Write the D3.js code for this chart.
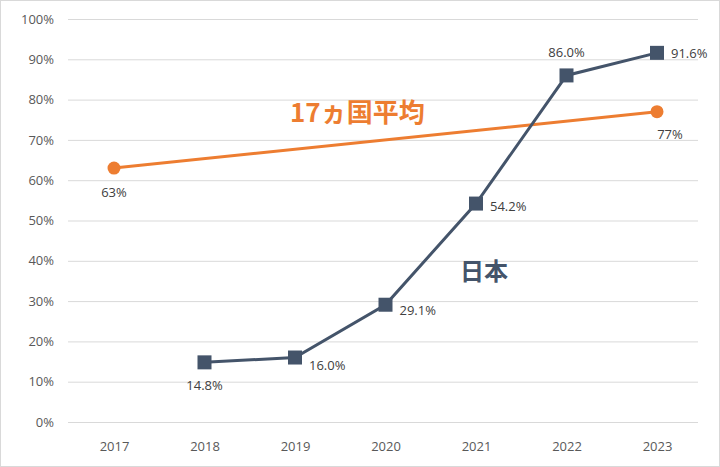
<!DOCTYPE html>
<html><head><meta charset="utf-8">
<script src="https://cdn.jsdelivr.net/npm/d3@7"></script>
<style>body{margin:0;background:#fff}</style>
</head><body><svg id="c" width="720" height="467"></svg>
<script>
const years=["2017","2018","2019","2020","2021","2022","2023"];
const japanYears=["2018","2019","2020","2021","2022","2023"];
const japanValues=[14.8,16.0,29.1,54.2,86.0,91.6];
const japanLabels=["14.8%","16.0%","29.1%","54.2%","86.0%","91.6%"];
const avgYears=["2017","2023"];
const avgValues=[63,77];
const avgLabels=["63%","77%"];
const yTicks=[0,10,20,30,40,50,60,70,80,90,100];

const svg=d3.select("#c");
svg.append("rect").attr("x",0.5).attr("y",0.5).attr("width",719).attr("height",466).attr("fill","#fff").attr("stroke","#d9d9d9");
const x=d3.scalePoint().domain(years).range([114,657]).padding(0);
const y=d3.scaleLinear().domain([0,100]).range([422,19]);
const gy=svg.append("g").attr("transform","translate(68,0)")
 .call(d3.axisLeft(y).tickValues(yTicks).tickFormat(d=>d+"%").tickSize(-630).tickPadding(14));
gy.select(".domain").remove();
gy.selectAll("line").attr("stroke","#d9d9d9");
gy.selectAll("text").attr("fill","#595959").attr("font-size",13).attr("font-family","Open Sans");
const gx=svg.append("g").attr("transform","translate(0,422)")
 .call(d3.axisBottom(x).tickSize(0).tickPadding(20));
gx.select(".domain").attr("stroke","#d9d9d9");
gx.selectAll("text").attr("fill","#595959").attr("font-size",13).attr("font-family","Open Sans");

const line=d3.line().x(d=>x(d[0])).y(d=>y(d[1]));
const avg=avgYears.map((d,i)=>[d,avgValues[i]]);
svg.append("path").attr("d",line(avg)).attr("fill","none").attr("stroke","#ed7d31").attr("stroke-width",3);
svg.selectAll(".ac").data(avg).join("circle").attr("cx",d=>x(d[0])).attr("cy",d=>y(d[1])).attr("r",6.5).attr("fill","#ed7d31");
const jp=japanYears.map((d,i)=>[d,japanValues[i]]);
svg.append("path").attr("d",line(jp)).attr("fill","none").attr("stroke","#44546a").attr("stroke-width",3);
svg.selectAll(".jm").data(jp).join("rect").attr("x",d=>x(d[0])-7).attr("y",d=>y(d[1])-7).attr("width",14).attr("height",14).attr("fill","#44546a");

const lab=(t,px,py,anchor)=>svg.append("text").text(t).attr("x",px).attr("y",py).attr("text-anchor",anchor||"start").attr("fill","#404040").attr("font-size",13).attr("font-family","Open Sans");
const jOff=[[0,28,"middle"],[14,12,"start"],[14,10,"start"],[14,7,"start"],[0,-18,"middle"],[14,5,"start"]];
jp.forEach((d,i)=>lab(japanLabels[i],x(d[0])+jOff[i][0],y(d[1])+jOff[i][1],jOff[i][2]));
lab(avgLabels[0],x(avg[0][0]),y(avg[0][1])+29,"middle");
lab(avgLabels[1],x(avg[1][0])+13,y(avg[1][1])+27,"middle");

svg.append("text").text("17ヵ国平均").attr("x",290).attr("y",122).attr("fill","#ed7d31").attr("font-size",26).attr("font-weight","bold").attr("font-family","Noto Sans CJK JP");
svg.append("text").text("日本").attr("x",460).attr("y",280).attr("fill","#44546a").attr("font-size",24).attr("font-weight","bold").attr("font-family","Noto Sans CJK JP");
</script></body></html>
